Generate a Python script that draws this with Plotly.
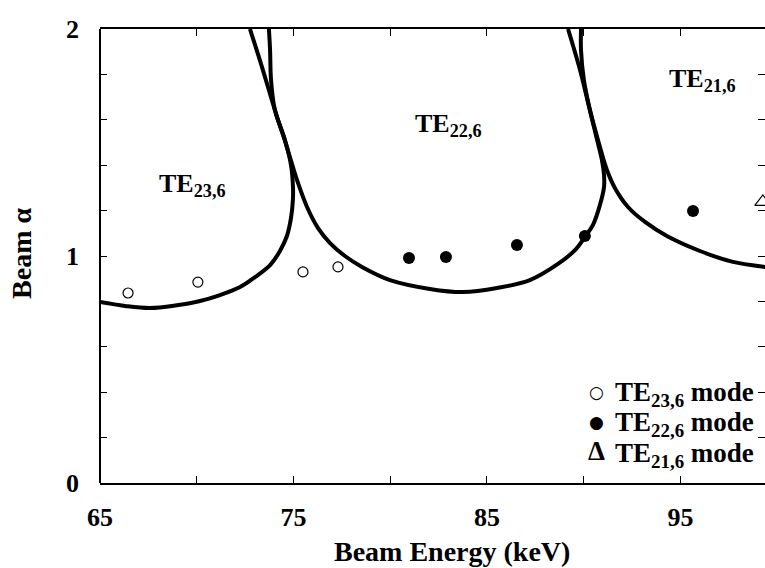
import plotly.graph_objects as go

# ---- data ----
te23_curve_x = [65.00, 66.29, 67.58, 68.88, 70.17, 71.20, 72.24, 73.01, 73.79, 74.30,
                74.66, 74.87, 74.97, 74.97, 74.87, 74.56, 74.04, 73.84, 73.79, 73.73]
te23_curve_y = [0.797, 0.780, 0.771, 0.782, 0.802, 0.828, 0.863, 0.907, 0.960, 1.022,
                1.088, 1.167, 1.247, 1.313, 1.401, 1.511, 1.643, 1.775, 1.907, 2.000]

te22_curve_x = [72.75, 73.42, 74.04, 74.66, 75.18, 75.70, 76.27, 76.89, 77.66, 78.54,
                79.99, 82.05, 83.76, 85.52, 87.22, 88.67, 89.55, 90.06, 90.48, 90.84,
                91.05, 91.05, 90.94, 90.63, 90.32, 90.01, 89.86, 89.86]
te22_curve_y = [2.000, 1.819, 1.643, 1.480, 1.335, 1.216, 1.123, 1.057, 1.000, 0.952,
                0.894, 0.855, 0.841, 0.859, 0.894, 0.965, 1.026, 1.084, 1.137, 1.225,
                1.304, 1.357, 1.423, 1.533, 1.643, 1.775, 1.907, 2.000]

te21_curve_x = [89.19, 89.81, 90.32, 90.84, 91.20, 91.61, 92.29, 93.17, 94.30, 96.01,
                97.71, 99.37, 99.60]
te21_curve_y = [2.000, 1.819, 1.643, 1.480, 1.379, 1.300, 1.216, 1.150, 1.088, 1.022,
                0.974, 0.952, 0.950]

te23_pts_x = [66.45, 70.06, 75.49, 77.30]
te23_pts_y = [0.837, 0.885, 0.930, 0.952]

te22_pts_x = [80.97, 82.88, 86.55, 90.06, 95.65]
te22_pts_y = [0.991, 0.996, 1.048, 1.088, 1.198]

te21_pts_x = [99.26]
te21_pts_y = [1.238]

x_tickvals = [65, 70, 75, 80, 85, 90, 95]
x_ticktext = ["65", "", "75", "", "85", "", "95"]
y_tickvals = [0, 0.2, 0.4, 0.6, 0.8, 1.0, 1.2, 1.4, 1.6, 1.8, 2.0]
y_ticktext = ["0", "", "", "", "", "1", "", "", "", "", "2"]

labels = [("TE<sub>23,6</sub>", 67.95, 1.313),
          ("TE<sub>22,6</sub>", 81.18, 1.577),
          ("TE<sub>21,6</sub>", 94.30, 1.775)]

legend_rows = [("○", "TE<sub>23,6</sub> mode"),
               ("●", "TE<sub>22,6</sub> mode"),
               ("<b>Δ</b>", "TE<sub>21,6</sub> mode")]

FONT = "Liberation Serif, Times New Roman, serif"

fig = go.Figure()
line_style = dict(color="black", width=4, shape="spline", smoothing=1.0)
for cx, cy in [(te23_curve_x, te23_curve_y), (te22_curve_x, te22_curve_y),
               (te21_curve_x, te21_curve_y)]:
    fig.add_trace(go.Scatter(x=cx, y=cy, mode="lines", line=line_style,
                             showlegend=False, hoverinfo="skip"))

fig.add_trace(go.Scatter(x=te23_pts_x, y=te23_pts_y, mode="markers",
                         name="TE<sub>23,6</sub> mode", showlegend=False,
                         marker=dict(symbol="circle-open", size=10, color="black",
                                     line=dict(width=1.2, color="black"))))
fig.add_trace(go.Scatter(x=te22_pts_x, y=te22_pts_y, mode="markers",
                         name="TE<sub>22,6</sub> mode", showlegend=False,
                         marker=dict(symbol="circle", size=12, color="black")))
fig.add_trace(go.Scatter(x=te21_pts_x, y=te21_pts_y, mode="markers",
                         name="TE<sub>21,6</sub> mode", showlegend=False,
                         marker=dict(symbol="triangle-up-open", size=14, color="black",
                                     line=dict(width=1.2, color="black"))))

for txt, ax, ay in labels:
    fig.add_annotation(x=ax, y=ay, text="<b>" + txt + "</b>", showarrow=False,
                       xanchor="left", yanchor="middle",
                       font=dict(family=FONT, size=26, color="black"))

# legend block (bottom right, inside the plot)
sym_sizes = [17, 17, 27]
sym_fonts = ["DejaVu Sans", "DejaVu Sans", FONT]
sym_y = [0.200, 0.134, 0.070]
txt_y = [0.196, 0.130, 0.062]
for i, (sym, txt) in enumerate(legend_rows):
    fig.add_annotation(xref="paper", yref="paper", x=0.7459, y=sym_y[i],
                       text=sym, showarrow=False,
                       xanchor="center", yanchor="middle",
                       font=dict(family=sym_fonts[i], size=sym_sizes[i], color="black"))
    fig.add_annotation(xref="paper", yref="paper", x=0.7714, y=txt_y[i],
                       text="<b>" + txt + "</b>", showarrow=False,
                       xanchor="left", yanchor="middle",
                       font=dict(family=FONT, size=27, color="black"))

# axis titles
fig.add_annotation(xref="paper", yref="paper", x=0.529, y=-0.150,
                   text="<b>Beam Energy (keV)</b>", showarrow=False,
                   xanchor="center", yanchor="middle",
                   font=dict(family=FONT, size=28, color="black"))
fig.add_annotation(xref="paper", yref="paper", x=-0.117, y=0.505,
                   text="<b>Beam α</b>", showarrow=False, textangle=-90,
                   xanchor="center", yanchor="middle",
                   font=dict(family=FONT, size=28, color="black"))

fig.update_layout(
    width=765, height=568,
    margin=dict(l=100, r=0, t=29, b=85),
    paper_bgcolor="white", plot_bgcolor="white",
    font=dict(family=FONT, size=26, color="black"),
    showlegend=False,
    xaxis=dict(range=[65, 99.37], tickvals=x_tickvals, ticktext=x_ticktext,
               ticks="inside", ticklen=7, tickwidth=1, tickcolor="black",
               showline=True, linecolor="black", linewidth=2, mirror="allticks",
               showgrid=False, zeroline=False,
               tickfont=dict(family=FONT, size=26, weight="bold"),
               ticklabelstandoff=10),
    yaxis=dict(range=[0, 2], tickvals=y_tickvals, ticktext=y_ticktext,
               ticks="inside", ticklen=7, tickwidth=1, tickcolor="black",
               showline=False, mirror="ticks",
               showgrid=False, zeroline=False,
               tickfont=dict(family=FONT, size=26, weight="bold"),
               ticklabelstandoff=20),
)
fig.add_shape(type="line", xref="paper", yref="paper", x0=0, x1=0, y0=0, y1=1,
              line=dict(color="black", width=2))

fig.write_html("out.html")
